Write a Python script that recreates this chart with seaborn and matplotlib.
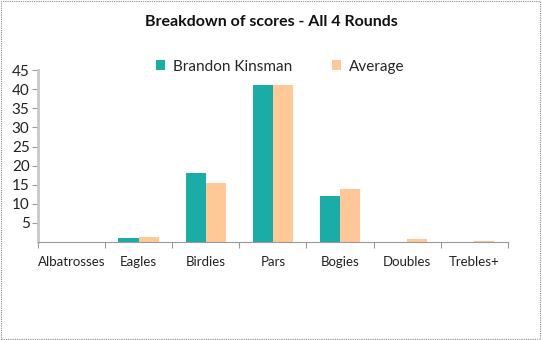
import matplotlib
matplotlib.use("Agg")
import matplotlib.pyplot as plt
import seaborn as sns
import pandas as pd
from matplotlib.patches import Rectangle
from matplotlib.ticker import FixedLocator

categories = ["Albatrosses", "Eagles", "Birdies", "Pars", "Bogies", "Doubles", "Trebles+"]
brandon = [0, 1, 18, 41, 12, 0, 0]
average = [0, 1.2, 15.4, 41, 13.8, 0.7, 0.25]
series_names = ["Brandon Kinsman", "Average"]
yticks = [5, 10, 15, 20, 25, 30, 35, 40, 45]

df = pd.DataFrame({
    "cat": categories * 2,
    "val": brandon + average,
    "series": [series_names[0]] * len(categories) + [series_names[1]] * len(categories),
})

sns.set_style("white")
plt.rcParams["font.family"] = ["Lato", "DejaVu Sans"]

fig = plt.figure(figsize=(5.42, 3.40), dpi=100)
ax = fig.add_axes([0.070, 0.288, 0.867, 0.506])

palette = {series_names[0]: "#1AADA8", series_names[1]: "#FFC896"}
sns.barplot(data=df, x="cat", y="val", hue="series", palette=palette,
            width=0.6, saturation=1, ax=ax, legend=True, linewidth=0, gap=0)

ax.set_ylim(0, 45)
ax.set_xlim(-0.5, 6.5)
ax.set_yticks(yticks)
ax.set_yticklabels([str(t) for t in yticks], fontsize=11, color="#222222")
ax.tick_params(axis="y", length=4, width=0.8, color="#999999", pad=2, left=True)
ax.set_xticks(range(len(categories)))
ax.set_xticklabels(categories, fontsize=9.5, color="#222222")
ax.tick_params(axis="x", length=0, pad=10)
ax.xaxis.set_minor_locator(FixedLocator([i + 0.5 for i in range(-1, 7)]))
ax.tick_params(axis="x", which="minor", length=4, width=0.8, color="#999999", bottom=True)
ax.set_xlabel("")
ax.set_ylabel("")

for s in ["top", "right"]:
    ax.spines[s].set_visible(False)
ax.spines["left"].set_color("#C8C8C8")
ax.spines["left"].set_linewidth(2)
ax.spines["bottom"].set_color("#999999")
ax.spines["bottom"].set_linewidth(0.8)
ax.spines["bottom"].set_linestyle((0, (1, 1)))
ax.grid(False)

leg = ax.legend(loc="upper center", bbox_to_anchor=(0.515, 1.14), ncol=2, frameon=False,
                fontsize=11, handlelength=0.6, handleheight=0.6, columnspacing=2.6,
                handletextpad=0.5)

fig.text(0.5, 0.935, "Breakdown of scores - All 4 Rounds", ha="center", va="center",
         fontsize=11.5, fontweight="bold", color="#111111")

fig.patches.append(Rectangle((0.002, 0.003), 0.995, 0.993, transform=fig.transFigure,
                             fill=False, edgecolor="#888888", linewidth=0.8,
                             linestyle=(0, (1, 1))))

fig.savefig("out.png", dpi=100)
